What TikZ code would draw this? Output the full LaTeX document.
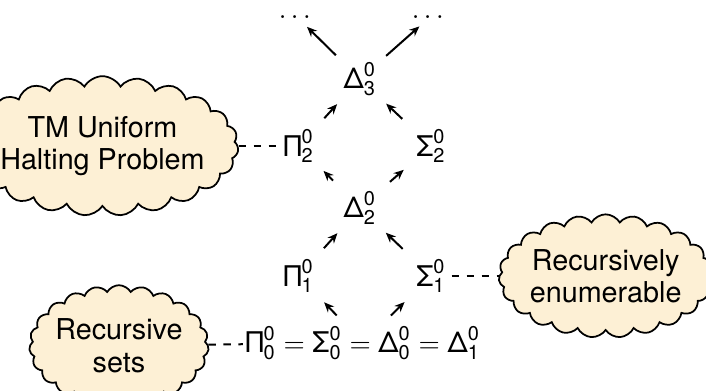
\documentclass[tikz,border=0pt]{standalone}
\usepackage{amsmath}
\usepackage{fontspec}
\setmainfont{TeX Gyre Heros}
\usepackage{tikz}
\usetikzlibrary{arrows.meta, positioning, shapes.symbols}

\definecolor{cloudfill}{RGB}{253,240,213}
\newcommand{\arh}[2]{\text{#1}^{\text{0}}_{\text{#2}}}

\begin{document}
\begin{tikzpicture}[
        x=0.4pt, y=-0.4pt,
        lvl/.style={minimum width=16pt, minimum height=14.4pt, inner sep=0pt,
                font=\fontsize{11.4}{12}\selectfont},
        topdots/.style={inner sep=0pt, font=\fontsize{11.4}{12}\selectfont},
        note/.style={cloud, cloud ignores aspect, cloud puffs=23, cloud puff arc=120,
                draw, fill=cloudfill, line width=0.7pt, align=center,
                inner xsep=-1pt, inner ysep=4.5pt,
                font=\fontsize{11.5}{13}\selectfont},
        arr/.style={-{Stealth[length=4pt, width=3.4pt]}, line width=0.8pt,
                shorten <=5pt, shorten >=3.6pt},
        link/.style={dashed, line width=0.8pt}]

    \useasboundingbox (0,0) rectangle (706,391);

    % the hierarchy
    \node[lvl] (d3) at (360,79)  {$\arh{Δ}{3}$};
    \node[lvl] (p2) at (299,146) {$\arh{Π}{2}$};
    \node[lvl] (s2) at (431,146) {$\arh{Σ}{2}$};
    \node[lvl] (d2) at (360,208) {$\arh{Δ}{2}$};
    \node[lvl] (p1) at (299,276) {$\arh{Π}{1}$};
    \node[lvl] (s1) at (431,276) {$\arh{Σ}{1}$};
    \node[lvl, minimum height=21.6pt, inner xsep=1pt] (bot) at (363,343)
        {$\arh{Π}{0} = \arh{Σ}{0} = \arh{Δ}{0} = \arh{Δ}{1}$};

    \node[topdots] (dl) at (297,17) {$\dots$};
    \node[topdots] (dr) at (430,17) {$\dots$};

    % examples
    \node[note, inner xsep=-3.4pt, inner ysep=5pt, left=16pt of p2] (tm)
        {TM Uniform\\Halting Problem};
    \node[note, right=18.8pt of s1] (re)
        {Recursively\\enumerable};
    \node[note, left=13.6pt of bot, yshift=-1pt] (rs)
        {Recursive\\sets};

    \draw[arr] (p2) -- (d3);
    \draw[arr] (s2) -- (d3);
    \draw[arr, shorten <=3pt, shorten >=4.5pt] (d3) -- (dl);
    \draw[arr, shorten <=3pt, shorten >=4.5pt] (d3) -- (dr);
    \draw[arr] (d2) -- (p2);
    \draw[arr] (d2) -- (s2);
    \draw[arr] (p1) -- (d2);
    \draw[arr] (s1) -- (d2);
    \draw[arr, shorten <=0pt, shorten >=4.3pt] (bot) -- (p1);
    \draw[arr, shorten <=0pt, shorten >=4.3pt] (bot) -- (s1);

    \draw[link] (tm) -- (p2);
    \draw[link] (s1) -- (re);
    \draw[link] (rs) -- (bot);
\end{tikzpicture}
\end{document}
